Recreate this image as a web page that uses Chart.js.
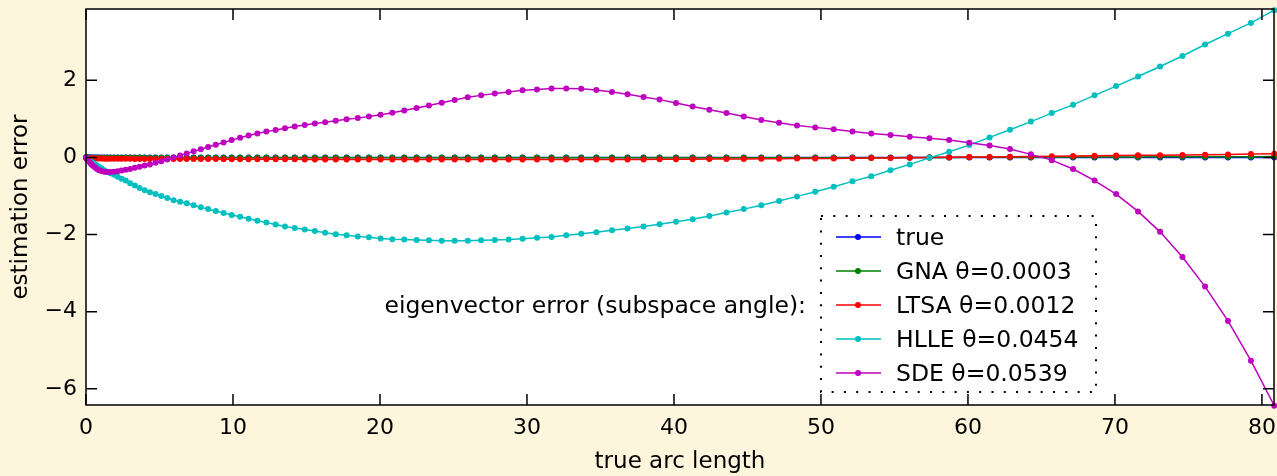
<!DOCTYPE html>
<html><head><meta charset="utf-8">
<script src="https://cdn.jsdelivr.net/npm/chart.js@4/dist/chart.umd.min.js"></script>
<style>html,body{margin:0;padding:0;background:#fdf6dc;overflow:hidden}canvas{display:block}</style>
</head><body>
<canvas id="c" width="1277" height="476"></canvas>
<script>
// ---- data ----
const arcLength = [
0, 0.02, 0.05, 0.10, 0.16, 0.24, 0.34, 0.45, 0.58, 0.72,
0.88, 1.05, 1.24, 1.44, 1.66, 1.90, 2.15, 2.42, 2.70, 3.00,
3.32, 3.65, 3.99, 4.35, 4.73, 5.12, 5.53, 5.96, 6.40, 6.85,
7.32, 7.81, 8.31, 8.83, 9.36, 9.91, 10.48, 11.06, 11.66, 12.27,
12.90, 13.54, 14.20, 14.88, 15.57, 16.27, 16.99, 17.73, 18.49, 19.25,
20.04, 20.84, 21.65, 22.49, 23.33, 24.20, 25.08, 25.97, 26.88, 27.81,
28.75, 29.70, 30.68, 31.67, 32.67, 33.69, 34.72, 35.78, 36.84, 37.93,
39.02, 40.14, 41.27, 42.41, 43.57, 44.75, 45.94, 47.15, 48.37, 49.61,
50.87, 52.14, 53.42, 54.73, 56.04, 57.38, 58.72, 60.09, 61.47, 62.86,
64.28, 65.70, 67.15, 68.61, 70.08, 71.57, 73.07, 74.59, 76.13, 77.69,
79.25, 80.84];

const errTrue = [
0,0,0,0,0,0,0,0,0,0, 0,0,0,0,0,0,0,0,0,0,
0,0,0,0,0,0,0,0,0,0, 0,0,0,0,0,0,0,0,0,0,
0,0,0,0,0,0,0,0,0,0, 0,0,0,0,0,0,0,0,0,0,
0,0,0,0,0,0,0,0,0,0, 0,0,0,0,0,0,0,0,0,0,
0,0,0,0,0,0,0,0,0,0, 0,0,0,0,0,0,0,0,0,0,
0,0];

const errGNA = [
0, -0.002, -0.003, -0.004, -0.004, -0.005, -0.005, -0.006, -0.006, -0.007,
-0.007, -0.008, -0.008, -0.008, -0.008, -0.009, -0.009, -0.009, -0.009, -0.009,
-0.01, -0.01, -0.01, -0.01, -0.01, -0.01, -0.01, -0.01, -0.01, -0.01,
-0.01, -0.01, -0.01, -0.01, -0.01, -0.01, -0.01, -0.01, -0.01, -0.01,
-0.01, -0.01, -0.01, -0.01, -0.01, -0.01, -0.01, -0.01, -0.01, -0.01,
-0.01, -0.01, -0.01, -0.01, -0.01, -0.01, -0.01, -0.01, -0.01, -0.01,
-0.01, -0.01, -0.01, -0.01, -0.01, -0.01, -0.01, -0.01, -0.01, -0.01,
-0.01, -0.01, -0.01, -0.01, -0.01, -0.01, -0.01, -0.01, -0.01, -0.01,
-0.01, -0.008, -0.006, -0.005, -0.003, -0.002, 0, 0.002, 0.003, 0.005,
0.006, 0.008, 0.009, 0.011, 0.012, 0.014, 0.015, 0.017, 0.018, 0.020,
0.021, 0.023];

const errLTSA = [
0, -0.005, -0.01, -0.012, -0.015, -0.018, -0.02, -0.022, -0.024, -0.026,
-0.028, -0.03, -0.031, -0.032, -0.033, -0.034, -0.035, -0.035, -0.036, -0.036,
-0.037, -0.037, -0.038, -0.038, -0.039, -0.04, -0.04, -0.04, -0.04, -0.04,
-0.042, -0.042, -0.043, -0.043, -0.044, -0.045, -0.045, -0.046, -0.046, -0.047,
-0.048, -0.048, -0.049, -0.05, -0.05, -0.051, -0.052, -0.052, -0.053, -0.054,
-0.055, -0.055, -0.055, -0.055, -0.055, -0.055, -0.055, -0.055, -0.055, -0.055,
-0.055, -0.055, -0.055, -0.055, -0.055, -0.055, -0.055, -0.053, -0.052, -0.05,
-0.048, -0.046, -0.044, -0.042, -0.04, -0.038, -0.035, -0.032, -0.03, -0.027,
-0.024, -0.02, -0.016, -0.011, -0.006, 0, 0.004, 0.009, 0.014, 0.019,
0.025, 0.03, 0.036, 0.042, 0.048, 0.054, 0.06, 0.066, 0.072, 0.079,
0.087, 0.095];

const errHLLE = [
0, -0.01, -0.02, -0.03, -0.05, -0.08, -0.11, -0.14, -0.17, -0.20,
-0.24, -0.28, -0.33, -0.37, -0.41, -0.45, -0.50, -0.55, -0.60, -0.67,
-0.73, -0.79, -0.85, -0.90, -0.95, -1.00, -1.05, -1.11, -1.15, -1.19,
-1.24, -1.29, -1.34, -1.39, -1.44, -1.49, -1.54, -1.59, -1.64, -1.69,
-1.74, -1.79, -1.83, -1.87, -1.91, -1.95, -1.99, -2.02, -2.05, -2.07,
-2.10, -2.12, -2.13, -2.14, -2.15, -2.16, -2.16, -2.16, -2.15, -2.14,
-2.13, -2.11, -2.08, -2.06, -2.02, -1.98, -1.94, -1.89, -1.84, -1.79,
-1.73, -1.67, -1.60, -1.52, -1.43, -1.34, -1.24, -1.13, -1.01, -0.89,
-0.76, -0.62, -0.49, -0.33, -0.18, -0.01, 0.15, 0.32, 0.52, 0.72,
0.93, 1.15, 1.37, 1.61, 1.85, 2.10, 2.36, 2.63, 2.93, 3.21,
3.49, 3.82];

const errSDE = [
0, -0.01, -0.03, -0.05, -0.08, -0.12, -0.17, -0.21, -0.25, -0.29,
-0.33, -0.35, -0.37, -0.38, -0.38, -0.37, -0.36, -0.34, -0.32, -0.30,
-0.27, -0.24, -0.21, -0.18, -0.14, -0.10, -0.05, 0.00, 0.05, 0.10,
0.16, 0.21, 0.27, 0.33, 0.39, 0.45, 0.51, 0.57, 0.62, 0.67,
0.71, 0.76, 0.80, 0.84, 0.88, 0.91, 0.95, 0.99, 1.02, 1.06,
1.11, 1.16, 1.22, 1.28, 1.35, 1.42, 1.49, 1.56, 1.61, 1.66,
1.70, 1.74, 1.76, 1.79, 1.79, 1.78, 1.75, 1.70, 1.64, 1.57,
1.50, 1.41, 1.32, 1.24, 1.15, 1.06, 0.97, 0.90, 0.83, 0.78,
0.73, 0.67, 0.62, 0.58, 0.54, 0.50, 0.45, 0.38, 0.31, 0.22,
0.08, -0.07, -0.30, -0.60, -0.95, -1.40, -1.93, -2.58, -3.35, -4.24,
-5.27, -6.44];

const seriesNames = ['true', 'GNA \u03b8=0.0003', 'LTSA \u03b8=0.0012', 'HLLE \u03b8=0.0454', 'SDE \u03b8=0.0539'];
const seriesColors = ['#0000ff', '#008000', '#ff0000', '#00bfbf', '#bf00bf'];
const xTicks = [0, 10, 20, 30, 40, 50, 60, 70, 80];
const yTicks = [-6, -4, -2, 0, 2];
const xTitle = 'true arc length';
const yTitle = 'estimation error';
const noteText = 'eigenvector error (subspace angle):';

// ---- chart ----
const FONT = 'DejaVu Sans';
const allSeries = [errTrue, errGNA, errLTSA, errHLLE, errSDE];

const bgPlugin = {
  id: 'bg',
  beforeDraw(chart) {
    const c = chart.ctx, a = chart.chartArea;
    c.save();
    c.fillStyle = '#fdf6dc';
    c.fillRect(0, 0, chart.width, chart.height);
    c.fillStyle = '#ffffff';
    c.fillRect(a.left, a.top, a.right - a.left, a.bottom - a.top);
    c.restore();
  }
};

const framePlugin = {
  id: 'frame',
  afterDraw(chart) {
    const c = chart.ctx, a = chart.chartArea;
    const xs = chart.scales.x, ys = chart.scales.y;
    const TL = 11;
    c.save();
    c.strokeStyle = '#000';
    c.lineWidth = 1.5;
    c.beginPath();
    xTicks.forEach(v => {
      const p = xs.getPixelForValue(v);
      c.moveTo(p, a.bottom); c.lineTo(p, a.bottom - TL);
      c.moveTo(p, a.top); c.lineTo(p, a.top + TL);
    });
    yTicks.forEach(v => {
      const p = ys.getPixelForValue(v);
      c.moveTo(a.left, p); c.lineTo(a.left + TL, p);
      c.moveTo(a.right, p); c.lineTo(a.right - TL, p);
    });
    c.stroke();
    c.strokeRect(a.left, a.top, a.right - a.left, a.bottom - a.top);

    // legend box
    const bx = 821, by = 216, bw = 275, bh = 176;
    c.fillStyle = '#fff';
    c.fillRect(bx, by, bw, bh);
    c.setLineDash([2, 10.3]);
    c.lineWidth = 2;
    c.strokeRect(bx, by, bw, bh);
    c.setLineDash([]);
    c.font = '23.5px "' + FONT + '"';
    c.textBaseline = 'alphabetic';
    seriesNames.forEach((name, k) => {
      const ry = 237 + k * 34;
      c.strokeStyle = seriesColors[k];
      c.fillStyle = seriesColors[k];
      c.lineWidth = 1.5;
      c.beginPath(); c.moveTo(836, ry); c.lineTo(881, ry); c.stroke();
      c.beginPath(); c.arc(858, ry, 3, 0, Math.PI * 2); c.fill();
      c.fillStyle = '#000';
      c.textAlign = 'left';
      c.fillText(name, 896, ry + 7.5);
    });
    c.textAlign = 'right';
    c.fillStyle = '#000';
    c.fillText(noteText, 806, 305 + 7.5);
    c.restore();
  }
};

new Chart(document.getElementById('c'), {
  type: 'scatter',
  data: {
    datasets: allSeries.map((ys, k) => ({
      label: seriesNames[k],
      data: arcLength.map((x, i) => ({ x: x, y: ys[i] })),
      showLine: true,
      borderColor: seriesColors[k],
      backgroundColor: seriesColors[k],
      borderWidth: 1.5,
      pointRadius: 3,
      pointBorderWidth: 0,
      pointHoverRadius: 3,
      order: 5 - k,
      clip: false
    }))
  },
  options: {
    responsive: false,
    animation: false,
    devicePixelRatio: 1,
    events: [],
    layout: { padding: { top: 9, right: 1, left: 0, bottom: 0 } },
    plugins: { legend: { display: false }, tooltip: { enabled: false } },
    scales: {
      x: {
        type: 'linear', min: 0, max: 80.82,
        afterBuildTicks: s => { s.ticks = xTicks.map(v => ({ value: v })); },
        afterFit: s => { s.height = 71; s.paddingLeft = 0; s.paddingRight = 0; },
        grid: { display: false, drawTicks: false },
        border: { display: false },
        ticks: { font: { family: FONT, size: 22 }, color: '#000', padding: 10, maxRotation: 0, autoSkip: false },
        title: { display: true, text: xTitle, font: { family: FONT, size: 23 }, color: '#000', padding: { top: 0, bottom: 0 } }
      },
      y: {
        type: 'linear', min: -6.42, max: 3.85,
        afterBuildTicks: s => { s.ticks = yTicks.map(v => ({ value: v })); },
        afterFit: s => { s.width = 86; s.paddingTop = 0; s.paddingBottom = 0; },
        grid: { display: false, drawTicks: false },
        border: { display: false },
        ticks: {
          font: { family: FONT, size: 22 }, color: '#000', padding: 9, autoSkip: false,
          callback: v => (v < 0 ? '\u2212' + Math.abs(v) : String(v))
        },
        title: { display: true, text: yTitle, font: { family: FONT, size: 23 }, color: '#000', padding: { top: 7, bottom: 0 } }
      }
    }
  },
  plugins: [bgPlugin, framePlugin]
});
</script>
</body></html>
